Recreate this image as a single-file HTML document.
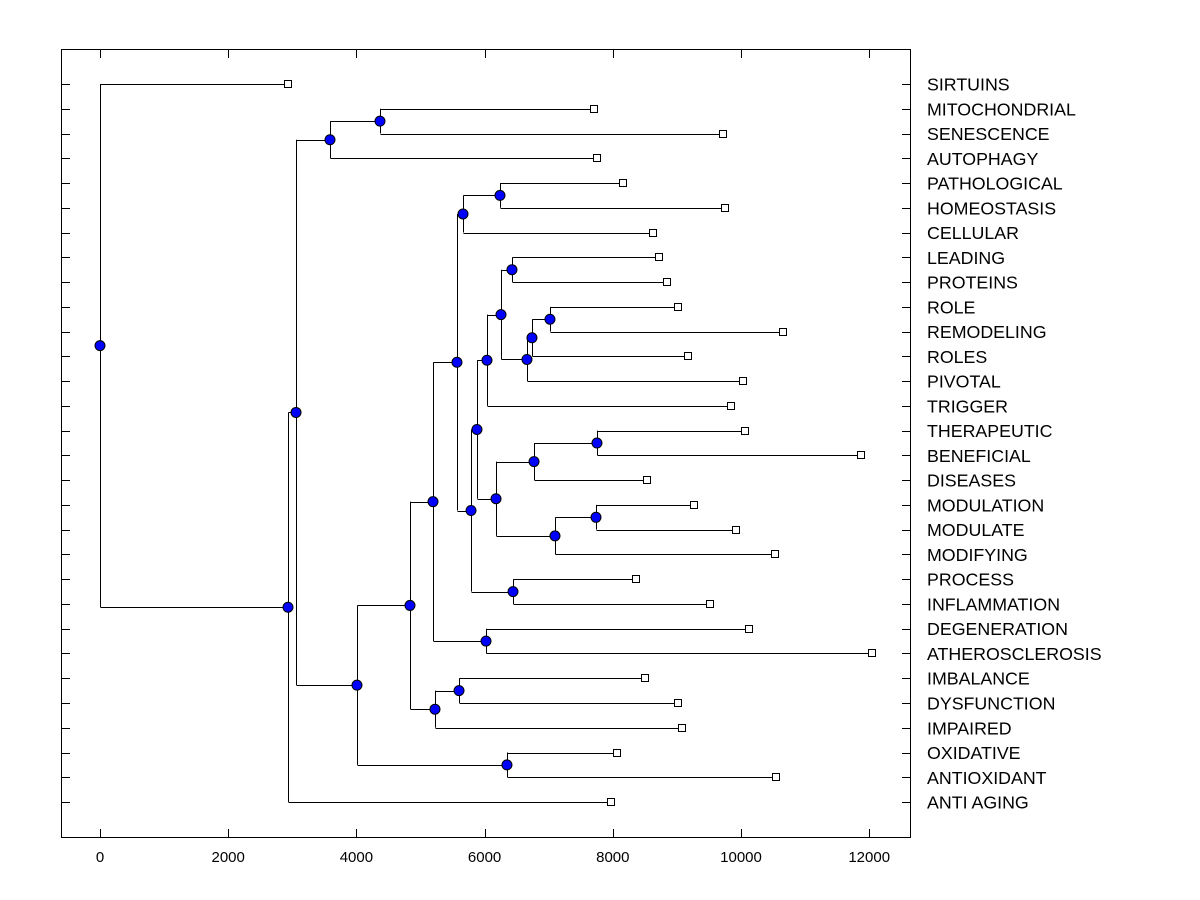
<!DOCTYPE html>
<html><head><meta charset="utf-8"><style>
body{margin:0;background:#fff;}
svg{display:block;font-family:"Liberation Sans",Arial,sans-serif;}
</style></head><body>
<svg id="chart" width="1200" height="900">
<rect x="61.5" y="49.5" width="849" height="788" fill="none" stroke="#000" stroke-width="1"/>
<g id="ticks"></g><g id="links"></g><g id="marks"></g><g id="labels"></g>
</svg>
<script>
const leafNames=["SIRTUINS","MITOCHONDRIAL","SENESCENCE","AUTOPHAGY","PATHOLOGICAL","HOMEOSTASIS","CELLULAR","LEADING","PROTEINS","ROLE","REMODELING","ROLES","PIVOTAL","TRIGGER","THERAPEUTIC","BENEFICIAL","DISEASES","MODULATION","MODULATE","MODIFYING","PROCESS","INFLAMMATION","DEGENERATION","ATHEROSCLEROSIS","IMBALANCE","DYSFUNCTION","IMPAIRED","OXIDATIVE","ANTIOXIDANT","ANTI AGING"];
const leafValues=[2933,7707,9719,7753,8159,9750,8627,8721,8846,9017,10655,9173,10031,9844,10062,11872,8533,9267,9922,10530,8362,9516,10125,12044,8502,9017,9080,8066,10546,7972];
const mergeChildren=[[1,2],[30,3],[9,10],[32,11],[33,12],[7,8],[35,34],[36,13],[14,15],[38,16],[17,18],[40,19],[39,41],[37,42],[20,21],[43,44],[4,5],[46,6],[47,45],[22,23],[48,49],[24,25],[51,26],[50,52],[27,28],[53,54],[31,55],[56,29],[0,57]];
const mergeValues=[4368,3588,7020,6739,6661,6427,6256,6037,7753,6771,7738,7098,6178,5881,6443,5788,6240,5663,5569,6022,5195,5601,5226,4836,6349,4009,3058,2933,0];
const xTicks=[0,2000,4000,6000,8000,10000,12000];

const NS="http://www.w3.org/2000/svg";
const xS=v=>100+v*0.0641;
const yS=r=>84+r*24.76;
function mk(tag,attrs,parent){const e=document.createElementNS(NS,tag);for(const k in attrs)e.setAttribute(k,attrs[k]);document.getElementById(parent).appendChild(e);return e;}
const n=leafNames.length;
const nodeY=[],nodeV=[];
for(let i=0;i<n;i++){nodeY[i]=yS(i);nodeV[i]=leafValues[i];}
mergeChildren.forEach((c,k)=>{nodeY[n+k]=(nodeY[c[0]]+nodeY[c[1]])/2;nodeV[n+k]=mergeValues[k];});
xTicks.forEach(t=>{
  const x=Math.round(xS(t))+0.5;
  let l=mk('line',{x1:x,x2:x,y1:829,y2:837,stroke:'#000'},'ticks');
  
  
  l=mk('line',{x1:x,x2:x,y1:50,y2:58,stroke:'#000'},'ticks');
  
  
  const tx=mk('text',{x:xS(t),y:862,'text-anchor':'middle','font-size':'15'},'labels');
  tx.textContent=t;
  
  
});
leafNames.forEach((nm,i)=>{
  const y=Math.round(yS(i))+0.5;
  let l=mk('line',{x1:62,x2:70,y1:y,y2:y,stroke:'#000'},'ticks');
  
  
  l=mk('line',{x1:902,x2:910,y1:y,y2:y,stroke:'#000'},'ticks');
  
  
  const tx=mk('text',{x:927,y:yS(i)+6.5,'font-size':'17.8'},'labels');
  tx.textContent=nm;
  
  
});
mergeChildren.forEach((c,k)=>{
  const x=Math.round(xS(mergeValues[k]))+0.5;
  let l=mk('line',{x1:x,x2:x,y1:nodeY[c[0]],y2:nodeY[c[1]],stroke:'#000'},'links');
  
  
  c.forEach(ch=>{
    const y=Math.round(nodeY[ch])+0.5;
    const h=mk('line',{x1:x,x2:xS(nodeV[ch]),y1:y,y2:y,stroke:'#000'},'links');
    
    
  });
});
for(let i=0;i<n;i++){
  const r=mk('rect',{x:Math.round(xS(leafValues[i]))-3.5,y:Math.round(yS(i))-3.5,width:7,height:7,fill:'#fff',stroke:'#000'},'marks');
  
  
}
mergeChildren.forEach((c,k)=>{
  const ci=mk('circle',{cx:xS(mergeValues[k]),cy:nodeY[n+k],r:5,fill:'#0000ff',stroke:'#000','stroke-width':1},'marks');
  
  
});
</script>
</body></html>
